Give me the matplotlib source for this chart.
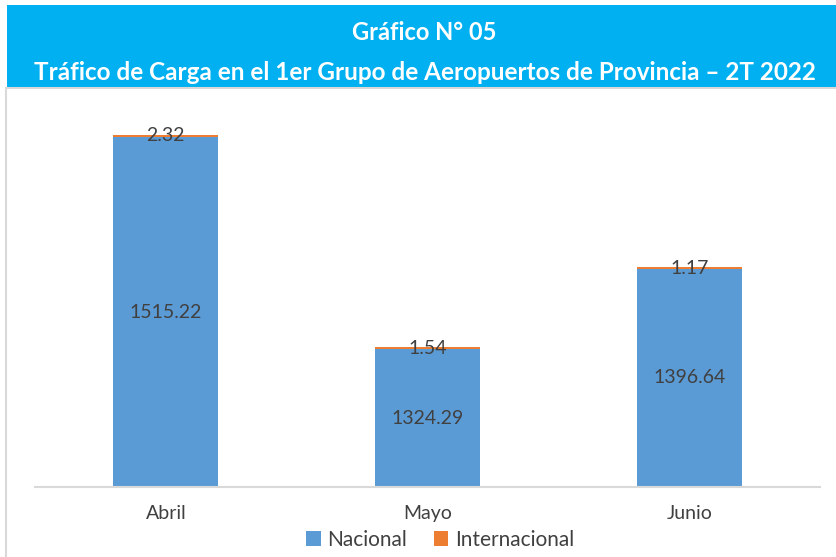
import matplotlib.pyplot as plt
from matplotlib.patches import Rectangle

# Data
meses = ['Abril', 'Mayo', 'Junio']
nacional = [1515.22, 1324.29, 1396.64]
internacional = [2.32, 1.54, 1.17]

color_nac = '#5B9BD5'
color_int = '#ED7D31'
color_txt = '#404040'

plt.rcParams['font.family'] = ['Lato', 'DejaVu Sans']

fig = plt.figure(figsize=(8.37, 5.57), dpi=100)

# Header band and chart frame
W, H = 837, 557
fig.patches.append(Rectangle((7 / W, 1 - 88 / H), 830 / W, 83 / H, transform=fig.transFigure,
                             facecolor='#00B0F0', edgecolor='none', zorder=0))
fig.patches.append(Rectangle((6 / W, -0.01), 840 / W, 1 - 88 / H + 0.01, transform=fig.transFigure,
                             facecolor='none', edgecolor='#D9D9D9', linewidth=1.5, zorder=0))
fig.text(0.507, 1 - 33 / H, 'Gráfico N° 05', ha='center', va='center', color='white',
         fontsize=17, fontweight='bold')
fig.text(0.508, 1 - 73 / H, 'Tráfico de Carga en el 1er Grupo de Aeropuertos de Provincia – 2T 2022',
         ha='center', va='center', color='white', fontsize=17.5, fontweight='bold')

ax = fig.add_axes([35 / W, 70 / H, 785 / W, 388.5 / H])

x = range(len(meses))
bars_nac = ax.bar(x, nacional, width=0.4, color=color_nac, label='Nacional', bottom=0)
bars_int = ax.bar(x, internacional, width=0.4, bottom=nacional, color=color_int, label='Internacional')

ax.set_ylim(1200, 1550)
ax.set_xlim(-0.5, 2.5)

# Data labels
for i in x:
    ax.text(i, (1200 + nacional[i]) / 2, f'{nacional[i]:.2f}', ha='center', va='center',
            fontsize=14, color=color_txt)
    ax.text(i, nacional[i] + internacional[i] / 2, f'{internacional[i]:.2f}', ha='center',
            va='center', fontsize=14, color=color_txt)

ax.set_xticks(list(x))
ax.set_xticklabels(meses, fontsize=14, color=color_txt)
ax.tick_params(axis='x', length=0, pad=13)
ax.set_yticks([])
for s in ['top', 'left', 'right']:
    ax.spines[s].set_visible(False)
ax.spines['bottom'].set_color('#D9D9D9')
ax.spines['bottom'].set_linewidth(1.5)

leg = fig.legend(handles=[bars_nac, bars_int], loc='center', bbox_to_anchor=(440 / W, 1 - 540 / H),
                 ncol=2, frameon=False, fontsize=15, handlelength=0.7, handleheight=0.7,
                 handletextpad=0.3, columnspacing=1.3)
for t in leg.get_texts():
    t.set_color(color_txt)

plt.savefig('out.png', dpi=100)
plt.close()
